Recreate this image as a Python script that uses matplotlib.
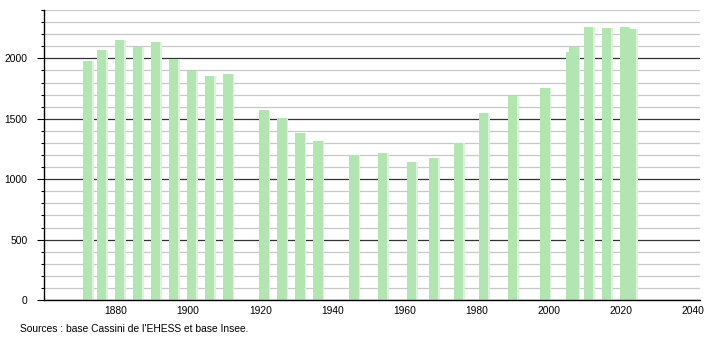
import matplotlib.pyplot as plt
from matplotlib.ticker import MultipleLocator

# census years and population
years = [1872, 1876, 1881, 1886, 1891, 1896, 1901, 1906, 1911,
         1921, 1926, 1931, 1936, 1946, 1954, 1962, 1968, 1975,
         1982, 1990, 1999, 2006, 2007, 2011, 2016, 2021, 2023]
population = [1980, 2070, 2152, 2092, 2136, 1995, 1896, 1854, 1871,
              1573, 1507, 1382, 1316, 1198, 1217, 1142, 1175, 1300,
              1548, 1691, 1755, 2050, 2092, 2262, 2249, 2262, 2241]
x_ticks = [1880, 1900, 1920, 1940, 1960, 1980, 2000, 2020, 2040]
source = "Sources : base Cassini de l'EHESS et base Insee."

plt.rcParams['font.family'] = ['Liberation Sans', 'DejaVu Sans']

fig = plt.figure(figsize=(7.1, 3.4), dpi=100)
ax = fig.add_axes([44 / 710, 40 / 340, 656 / 710, 290 / 340])

# soft right edge, then the solid bar over it
ax.bar([y + 0.45 for y in years], population, width=2.6, color='#dcf3dc', zorder=3)
ax.bar(years, population, width=2.6, color='#b2e5b2', zorder=3)

ax.set_xlim(1860, 2042)
ax.set_ylim(0, 2400)

ax.yaxis.set_major_locator(MultipleLocator(500))
ax.yaxis.set_minor_locator(MultipleLocator(100))
ax.grid(which='minor', axis='y', color='#c8c8c8', lw=0.9, zorder=1)
ax.grid(which='major', axis='y', color='#333333', lw=0.9, zorder=2)

ax.set_xticks(x_ticks)
ax.tick_params(axis='x', length=0, pad=4, labelsize=7.4)
ax.tick_params(axis='y', which='major', length=5, width=0.8, pad=7, labelsize=7.4)
ax.tick_params(axis='y', which='minor', length=2.5, width=0.8)

for side in ['top', 'right']:
    ax.spines[side].set_visible(False)
for side in ['left', 'bottom']:
    ax.spines[side].set_linewidth(1)
    ax.spines[side].set_zorder(4)

fig.text(20 / 710, 1 - 329 / 340, source, fontsize=7.4, va='center', ha='left')

fig.savefig('out.png', dpi=100)
